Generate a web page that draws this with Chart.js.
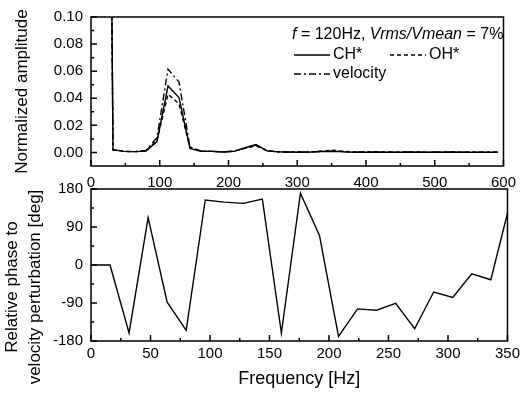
<!DOCTYPE html>
<html>
<head>
<meta charset="utf-8">
<script src="https://cdn.jsdelivr.net/npm/chart.js@4"></script>
<style>
  body { margin: 0; background: #fff; }
  #wrap { position: relative; width: 524px; height: 393px; }
  .box { position: absolute; left: 0; width: 524px; }
  #topBox { top: 0; height: 200px; }
  #botBox { top: 170px; height: 223px; }
</style>
</head>
<body>
<div id="wrap">
  <div class="box" id="topBox"><canvas id="ampChart"></canvas></div>
  <div class="box" id="botBox"><canvas id="phaseChart"></canvas></div>
</div>

<script>
  // top panel: normalized amplitude spectra
  const ampFreq = [16, 32, 48, 64, 80, 96, 112, 128, 144, 160, 176, 192, 208, 224, 240, 256, 272, 288, 304,
    320, 336, 352, 368, 384, 400, 416, 432, 448, 464, 480, 496, 512, 528, 544, 560, 576, 592];
  const chAmp = [1.0, 0.0020, 0.0008, 0.0006, 0.0010, 0.0080, 0.0490, 0.0405, 0.0030, 0.0008, 0.0008, 0.0003, 0.0008, 0.0035, 0.0058, 0.0012, 0.0004, 0.0003, 0.0002,
    0.0003, 0.0006, 0.0008, 0.0004, 0.0002, 0.0002, 0.0003, 0.0002, 0.0002, 0.0003, 0.0002, 0.0002, 0.0002, 0.0003, 0.0002, 0.0002, 0.0002, 0.0002];
  const ohAmp = [1.0, 0.0022, 0.0008, 0.0006, 0.0012, 0.0090, 0.0430, 0.0360, 0.0035, 0.0010, 0.0008, 0.0004, 0.0010, 0.0030, 0.0050, 0.0014, 0.0005, 0.0004, 0.0003,
    0.0004, 0.0012, 0.0017, 0.0008, 0.0003, 0.0003, 0.0003, 0.0003, 0.0002, 0.0003, 0.0003, 0.0002, 0.0003, 0.0003, 0.0002, 0.0003, 0.0002, 0.0002];
  const velAmp = [1.0, 0.0018, 0.0008, 0.0006, 0.0015, 0.0110, 0.0615, 0.0520, 0.0040, 0.0010, 0.0008, 0.0004, 0.0010, 0.0032, 0.0054, 0.0012, 0.0004, 0.0003, 0.0003,
    0.0004, 0.0008, 0.0012, 0.0006, 0.0003, 0.0003, 0.0003, 0.0002, 0.0003, 0.0003, 0.0002, 0.0003, 0.0002, 0.0003, 0.0002, 0.0002, 0.0003, 0.0002];
  const ampXTicks = [0, 100, 200, 300, 400, 500, 600];
  const ampYTicks = [0, 0.02, 0.04, 0.06, 0.08, 0.10];

  // bottom panel: phase relative to velocity
  const phaseFreq = [0, 16, 32, 48, 64, 80, 96, 112, 128, 144, 160, 176, 192, 208, 224, 240, 256, 272, 288, 304, 320, 336, 352];
  const phaseDeg = [0, 0, -161, 112, -88, -155, 154, 149, 146, 156, -161, 170, 70, -169, -104, -107, -91, -151, -64, -77, -21, -35, 145];
  const phaseXTicks = [0, 50, 100, 150, 200, 250, 300, 350];
  const phaseYTicks = [-180, -90, 0, 90, 180];

  const FONT = "'Liberation Sans', Arial, sans-serif";
  Chart.defaults.font.family = FONT;
  Chart.defaults.color = '#000';

  const pairUp = (xs, ys) => xs.map((x, i) => ({ x: x, y: ys[i] }));

  // box around the plot + ticks pointing inward, like the original
  const frameTicks = {
    id: 'frameTicks',
    afterDatasetsDraw(chart) {
      const { ctx, chartArea: a, scales: { x, y } } = chart;
      ctx.save();
      ctx.strokeStyle = '#000';
      ctx.lineWidth = 1.5;
      ctx.strokeRect(a.left, a.top, a.right - a.left, a.bottom - a.top);
      ctx.beginPath();
      const xt = x.ticks.map(t => t.value);
      xt.forEach((v, i) => {
        const px = x.getPixelForValue(v);
        ctx.moveTo(px, a.bottom); ctx.lineTo(px, a.bottom - 6);
        if (i < xt.length - 1) {
          const m = x.getPixelForValue((v + xt[i + 1]) / 2);
          ctx.moveTo(m, a.bottom); ctx.lineTo(m, a.bottom - 3);
        }
      });
      const yt = y.ticks.map(t => t.value);
      yt.forEach((v, i) => {
        const py = y.getPixelForValue(v);
        ctx.moveTo(a.left, py); ctx.lineTo(a.left + 6, py);
        if (i < yt.length - 1) {
          const m = y.getPixelForValue((v + yt[i + 1]) / 2);
          ctx.moveTo(a.left, m); ctx.lineTo(a.left + 3, m);
        }
      });
      ctx.stroke();
      ctx.restore();
    }
  };

  // legend box in the top panel, drawn by hand (mixed italic text)
  const ampKey = {
    id: 'ampKey',
    afterDraw(chart) {
      const { ctx, chartArea: a } = chart;
      const x0 = a.left + 201;
      ctx.save();
      ctx.fillStyle = '#000';
      ctx.strokeStyle = '#000';
      ctx.textBaseline = 'middle';
      let cx = x0;
      [['f', true], [' = 120Hz, ', false], ['Vrms/Vmean', true], [' = 7%', false]].forEach(function (seg) {
        ctx.font = (seg[1] ? 'italic ' : '') + '16px ' + FONT;
        ctx.fillText(seg[0], cx, a.top + 18);
        cx += ctx.measureText(seg[0]).width;
      });
      ctx.font = '16px ' + FONT;
      const sample = function (xs, yy, dash, label) {
        ctx.beginPath();
        ctx.setLineDash(dash);
        ctx.lineWidth = 1.3;
        ctx.moveTo(xs, yy); ctx.lineTo(xs + 36, yy);
        ctx.stroke();
        ctx.setLineDash([]);
        ctx.fillText(label, xs + 39, yy);
      };
      sample(x0 + 2, a.top + 38, [], 'CH*');
      sample(x0 + 98, a.top + 38, [4, 3], 'OH*');
      sample(x0 + 2, a.top + 57, [7, 3, 2, 3], 'velocity');
      ctx.restore();
    }
  };

  // two-line rotated y title for the phase panel
  const sideTitle = {
    id: 'sideTitle',
    afterDraw(chart, args, opts) {
      const ctx = chart.ctx;
      ctx.save();
      ctx.fillStyle = '#000';
      ctx.font = '17px ' + FONT;
      ctx.textAlign = 'center';
      ctx.textBaseline = 'middle';
      opts.lines.forEach(function (line, i) {
        ctx.save();
        ctx.translate(opts.x[i], opts.y);
        ctx.rotate(-Math.PI / 2);
        ctx.fillText(line, 0, 0);
        ctx.restore();
      });
      ctx.restore();
    }
  };

  const lineStyle = function (label, data, dash) {
    return {
      label: label, data: data, borderColor: '#000', borderWidth: 1.4,
      borderDash: dash, pointRadius: 0, tension: 0, fill: false
    };
  };

  new Chart(document.getElementById('ampChart'), {
    type: 'line',
    data: {
      datasets: [
        lineStyle('CH*', pairUp(ampFreq, chAmp), []),
        lineStyle('OH*', pairUp(ampFreq, ohAmp), [4, 3]),
        lineStyle('velocity', pairUp(ampFreq, velAmp), [7, 3, 2, 3])
      ]
    },
    options: {
      responsive: true, maintainAspectRatio: false, animation: false, devicePixelRatio: 1,
      layout: { padding: { left: 0, right: 13, top: 15, bottom: 0 } },
      scales: {
        x: {
          type: 'linear', min: 0, max: 600,
          afterBuildTicks: s => { s.ticks = ampXTicks.map(v => ({ value: v })); },
          afterFit: s => { s.height = 34; },
          grid: { display: false, drawTicks: false }, border: { display: false },
          ticks: { padding: 8, font: { size: 15 } }
        },
        y: {
          min: -0.01, max: 0.10,
          afterBuildTicks: s => { s.ticks = ampYTicks.map(v => ({ value: v })); },
          afterFit: s => { s.width = 91; },
          grid: { display: false, drawTicks: false }, border: { display: false },
          ticks: { padding: 8, font: { size: 15 }, callback: v => v.toFixed(2) },
          title: { display: true, text: 'Normalized amplitude', font: { size: 17 }, padding: { top: 12, bottom: 0 } }
        }
      },
      plugins: { legend: { display: false }, tooltip: { enabled: false } }
    },
    plugins: [frameTicks, ampKey]
  });

  new Chart(document.getElementById('phaseChart'), {
    type: 'line',
    data: {
      datasets: [lineStyle('phase', pairUp(phaseFreq, phaseDeg), [])]
    },
    options: {
      responsive: true, maintainAspectRatio: false, animation: false, devicePixelRatio: 1,
      layout: { padding: { left: 0, right: 13, top: 19, bottom: 0 } },
      scales: {
        x: {
          type: 'linear', min: 0, max: 350,
          afterBuildTicks: s => { s.ticks = phaseXTicks.map(v => ({ value: v })); },
          afterFit: s => { s.height = 52; },
          grid: { display: false, drawTicks: false }, border: { display: false },
          ticks: { padding: 4, font: { size: 15 } },
          title: { display: true, text: 'Frequency [Hz]', font: { size: 18 }, padding: { top: 0, bottom: 3 } }
        },
        y: {
          min: -180, max: 180,
          afterBuildTicks: s => { s.ticks = phaseYTicks.map(v => ({ value: v })); },
          afterFit: s => { s.width = 91; },
          grid: { display: false, drawTicks: false }, border: { display: false },
          ticks: { padding: 8, font: { size: 15 } }
        }
      },
      plugins: {
        legend: { display: false }, tooltip: { enabled: false },
        sideTitle: { lines: ['Relative phase to', 'velocity perturbation [deg]'], x: [12, 35], y: 117 }
      }
    },
    plugins: [frameTicks, sideTitle]
  });
</script>
</body>
</html>
